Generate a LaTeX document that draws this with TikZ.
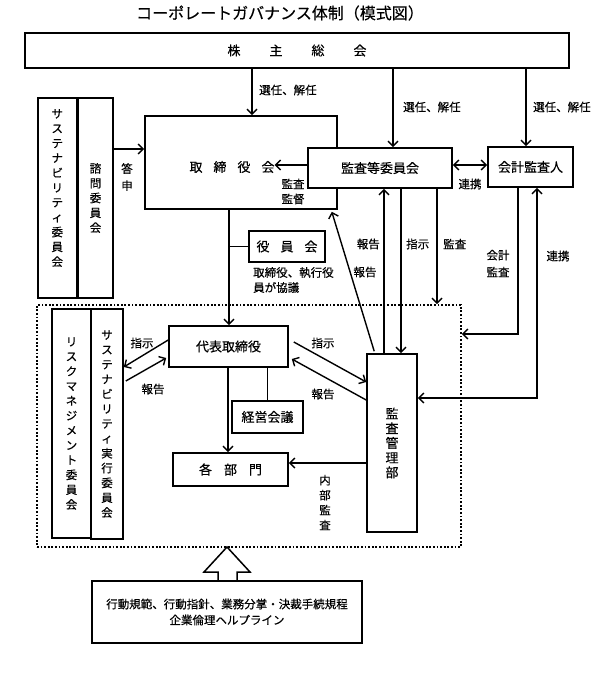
\documentclass[tikz,border=0pt]{standalone}
\usepackage{fontspec}
\setmainfont{Noto Sans CJK JP}[FakeBold=0.4]
\usetikzlibrary{arrows.meta,calc}
\begin{document}
\begin{tikzpicture}[x=1pt,y=-1pt,
  box/.style={draw,line width=1.6pt,inner sep=0pt,fill=white,font=\fontsize{13}{15}\selectfont},
  lbl/.style={inner sep=0pt,font=\fontsize{11.5}{14}\selectfont},
  stk/.style={inner sep=0pt,align=center,font=\fontsize{11.5}{#1}\selectfont},
  stk/.default=14.8,
  arr/.style={line width=1.4pt,-{Straight Barb[length=5pt,width=10pt]}},
  darr/.style={line width=1.4pt,{Straight Barb[length=5pt,width=10pt]}-{Straight Barb[length=5pt,width=10pt]}},
  ln/.style={line width=1.4pt},
]
\useasboundingbox (0,0) rectangle (603,688);

\node[font=\fontsize{16}{18}\selectfont,inner sep=0pt] (title) at (280,13) {コーポレートガバナンス体制（模式図）};

% dotted executive area
\node[draw,line width=1.8pt,dash pattern=on 1.8pt off 1.8pt,minimum width=424pt,minimum height=242pt,inner sep=0pt] (exec) at (249,426) {};

\node[box,minimum width=544pt,minimum height=35pt] (agm) at (297,50.5) {株\hspace{29pt}主\hspace{29pt}総\hspace{29pt}会};
\node[box,minimum width=192pt,minimum height=93pt] (board) at (241,162.5) {};
\node[inner sep=0pt,font=\fontsize{13}{15}\selectfont] (boardlbl) at (232,167) {取\hspace{11pt}締\hspace{11pt}役\hspace{11pt}会};
\node[box,minimum width=144pt,minimum height=40pt] (acc) at (380,168) {監査等委員会};
\node[box,minimum width=85pt,minimum height=40pt] (auditor) at (530.5,167) {会計監査人};

\node[box,minimum width=38.5pt,minimum height=200pt] (sust) at (57.25,198) {};
\node[stk] (sustlbl) at (57.25,188) {サ\\ス\\テ\\ナ\\ビ\\リ\\テ\\ィ\\委\\員\\会};
\node[box,minimum width=35pt,minimum height=200pt,stk] (advisory) at (95.5,198) {諮\\問\\委\\員\\会};

\node[box,minimum width=76pt,minimum height=31pt] (officers) at (287,246.5) {役\hspace{11pt}員\hspace{11pt}会};
\node[box,minimum width=119pt,minimum height=41pt] (rep) at (228.5,346.5) {代表取締役};
\node[box,minimum width=71pt,minimum height=32pt] (mgmt) at (267.5,417) {経営会議};
\node[box,minimum width=115pt,minimum height=33pt] (depts) at (230.5,469.5) {各\hspace{12pt}部\hspace{12pt}門};
\node[box,minimum width=50pt,minimum height=178pt,align=center,font=\fontsize{13}{14.7}\selectfont] (iad) at (392,443) {監\\査\\管\\理\\部};
\node[box,minimum width=39pt,minimum height=229pt,stk] (risk) at (71.5,423.5) {リ\\ス\\ク\\マ\\ネ\\ジ\\メ\\ン\\ト\\委\\員\\会};
\node[box,minimum width=32pt,minimum height=230pt,stk] (sustexec) at (107,424) {サ\\ス\\テ\\ナ\\ビ\\リ\\テ\\ィ\\実\\行\\委\\員\\会};

% block arrow and bottom box
\coordinate (tip) at (227,547);
\draw[line width=1.5pt,fill=white,line join=miter]
  ($(tip)+(-9,34)$) -- ($(tip)+(-9,25)$) -- ($(tip)+(-23,25)$) -- (tip)
  -- ($(tip)+(23,25)$) -- ($(tip)+(10,25)$) -- ($(tip)+(10,34)$);
\node[box,minimum width=270pt,minimum height=62pt,align=center,font=\fontsize{11.5}{16}\selectfont] (bottom) at (227,612) {行動規範、行動指針、業務分掌・決裁手続規程\\企業倫理ヘルプライン};

% shareholders' meeting arrows
\coordinate (xa) at (252,0);
\coordinate (xb) at (393,0);
\coordinate (xc) at (526,0);
\draw[arr] (agm.south -| xa) -- (board.north -| xa);
\node[lbl,anchor=west] (l1) at (259,90) {選任、解任};
\draw[arr] (agm.south -| xb) -- (acc.north -| xb);
\node[lbl,anchor=west] (l2) at (403,107) {選任、解任};
\draw[arr] (agm.south -| xc) -- (auditor.north -| xc);
\node[lbl,anchor=west] (l3) at (533,107) {選任、解任};

% advisory -> board
\coordinate (ya) at (0,149);
\draw[arr] (advisory.east |- ya) -- (board.west |- ya);
\node[stk=17] (l4) at (127,177) {答\\申};

% audit committee -> board
\coordinate (yb) at (0,165);
\draw[arr] (acc.west |- yb) -- (boardlbl.east |- yb);
\node[stk=15] (l5) at (293,191.5) {監査\\監督};
\draw[darr] (acc.east |- yb) -- (auditor.west |- yb);
\node[lbl] (l6) at (470,184) {連携};

% board -> representative director, officers' meeting
\coordinate (xd) at (229,0);
\draw[arr] (board.south -| xd) -- (rep.north -| xd);
\draw[ln] (xd |- officers.west) -- (officers.west);
\node[stk=15,align=left,anchor=north west] (l7) at (253,267) {取締役、執行役\\員が協議};

% audit committee <-> internal audit
\coordinate (xe) at (384,0);
\coordinate (xf) at (401,0);
\coordinate (xg) at (437,0);
\draw[arr] (iad.north -| xe) -- (acc.south -| xe);
\node[lbl,anchor=east] (l8) at (380,244) {報告};
\draw[arr] (acc.south -| xf) -- (iad.north -| xf);
\node[lbl,anchor=west] (l9) at (406,244) {指示};
\draw[arr] (acc.south -| xg) -- (exec.north -| xg);
\node[lbl,anchor=west] (l10) at (443,244) {監査};
\draw[arr] ([xshift=8pt,yshift=2pt]iad.north west) -- ([xshift=-6pt,yshift=-2pt]board.south east);
\node[lbl] (l11) at (365,272) {報告};

% accounting auditor
\coordinate (xh) at (518,0);
\coordinate (yh) at (0,334);
\draw[arr] (auditor.south -| xh) |- (exec.east |- yh);
\node[stk=17] (l12) at (498,263.5) {会計\\監査};
\coordinate (xi) at (537,0);
\coordinate (yi) at (0,398);
\draw[darr] (iad.east |- yi) -| (auditor.south -| xi);
\node[lbl] (l13) at (558,256) {連携};

% representative director <-> internal audit
\draw[arr] ([xshift=5pt,yshift=4.5pt]rep.east) -- ([yshift=61pt]iad.west);
\node[lbl] (l14) at (323,343) {指示};
\draw[arr] ([yshift=43pt]iad.west) -- ([xshift=3pt,yshift=-12.5pt]rep.east);
\node[lbl] (l15) at (323,394) {報告};

% representative director <-> sustainability execution committee
\draw[arr] ([yshift=6.5pt]rep.west) -- ([yshift=57pt]sustexec.east);
\node[lbl] (l16) at (142,343) {指示};
\draw[arr] ([xshift=2pt,yshift=43pt]sustexec.east) -- ([xshift=-2pt,yshift=-11.5pt]rep.west);
\node[lbl] (l17) at (153,389) {報告};

% representative director -> departments, management meeting
\coordinate (xj) at (228,0);
\draw[arr] (rep.south -| xj) -- (depts.north -| xj);
\draw[ln] (rep.south -| mgmt.north) -- (mgmt.north);
\coordinate (yk) at (0,463);
\draw[arr] (iad.west |- yk) -- (depts.east |- yk);
\node[stk=15] (l18) at (325,502.5) {内\\部\\監\\査};
\end{tikzpicture}
\end{document}
